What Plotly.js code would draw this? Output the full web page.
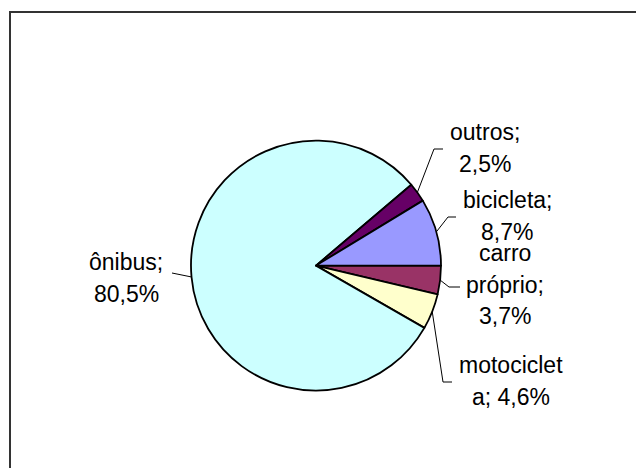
<!DOCTYPE html>
<html><head><meta charset="utf-8">
<script src="https://cdn.plot.ly/plotly-3.0.1.min.js"></script>
<style>html,body{margin:0;padding:0;background:#fff}#chart{width:636px;height:468px}</style>
</head><body><div id="chart"></div>
<script>
// ---- data ----
const categories = ["carro próprio", "motocicleta", "ônibus", "outros", "bicicleta"];
const values = [3.7, 4.6, 80.5, 2.5, 8.7];
const colors = ["#993366", "#FFFFCC", "#CCFFFF", "#660066", "#9999FF"];

// ---- layout (pixels) ----
const W = 636, H = 468;
const CX = 316, CY = 265.6, R = 125;
const LINE_GAP = 31.5;
// label placement: first-line centre, leader elbow and end
const labelLayout = [
  {tx: 505, ty: 253, elbow: [449, 287], end: [460, 287]},
  {tx: 511, ty: 365, elbow: [443, 382], end: [452, 382]},
  {tx: 126, ty: 262, elbow: [172, 273], end: [172, 273]},
  {tx: 485, ty: 132, elbow: [434, 149], end: [443, 149]},
  {tx: 507, ty: 200, elbow: [448, 217], end: [456, 217]}
];

const px = x => x / W;
const py = y => 1 - y / H;

function wrap(str, max) {
  const words = str.split(' ');
  const lines = [];
  let cur = '';
  for (let w of words) {
    while (w.length > max) {
      if (cur) { lines.push(cur); cur = ''; }
      lines.push(w.slice(0, max));
      w = w.slice(max);
    }
    if (!cur) cur = w;
    else if ((cur + ' ' + w).length <= max) cur += ' ' + w;
    else { lines.push(cur); cur = w; }
  }
  if (cur) lines.push(cur);
  return lines;
}

const total = values.reduce((a, b) => a + b, 0);
const annotations = [];
const shapes = [];
let cum = 0;
values.forEach((v, i) => {
  const startDeg = -cum / total * 360;
  const midDeg = startDeg - v / total * 180;
  cum += v;
  const a = midDeg * Math.PI / 180;
  const ex = CX + R * Math.cos(a), ey = CY - R * Math.sin(a);
  const L = labelLayout[i];
  const txt = categories[i] + '; ' + v.toFixed(1).replace('.', ',') + '%';
  const lines = wrap(txt, 10);
  lines.forEach((ln, k) => {
    annotations.push({
      xref: 'paper', yref: 'paper', x: px(L.tx), y: py(L.ty + k * LINE_GAP),
      text: ln, showarrow: false, xanchor: 'center', yanchor: 'middle',
      font: {family: 'Liberation Sans, Arial, sans-serif', size: 23, color: '#000'}
    });
  });
  shapes.push({
    type: 'path', xref: 'paper', yref: 'paper',
    path: `M ${px(ex)} ${py(ey)} L ${px(L.elbow[0])} ${py(L.elbow[1])} L ${px(L.end[0])} ${py(L.end[1])}`,
    line: {color: '#000', width: 1}
  });
});

// outer frame
shapes.push({
  type: 'rect', xref: 'paper', yref: 'paper',
  x0: px(10), x1: px(W + 10), y0: py(H + 10), y1: py(12),
  line: {color: '#333', width: 2}, fillcolor: 'rgba(0,0,0,0)'
});

const trace = {
  type: 'pie',
  labels: categories,
  values: values,
  sort: false,
  direction: 'clockwise',
  rotation: 90,
  textinfo: 'none',
  hoverinfo: 'label+percent',
  marker: {colors: colors, line: {color: '#000', width: 1.8}},
  domain: {x: [px(CX - R), px(CX + R)], y: [py(CY + R), py(CY - R)]},
  showlegend: false
};

Plotly.newPlot('chart', [trace], {
  width: W, height: H,
  margin: {l: 0, r: 0, t: 0, b: 0},
  paper_bgcolor: '#fff', plot_bgcolor: '#fff',
  showlegend: false,
  annotations: annotations,
  shapes: shapes
}, {displayModeBar: false, staticPlot: true});
</script>
</body></html>
